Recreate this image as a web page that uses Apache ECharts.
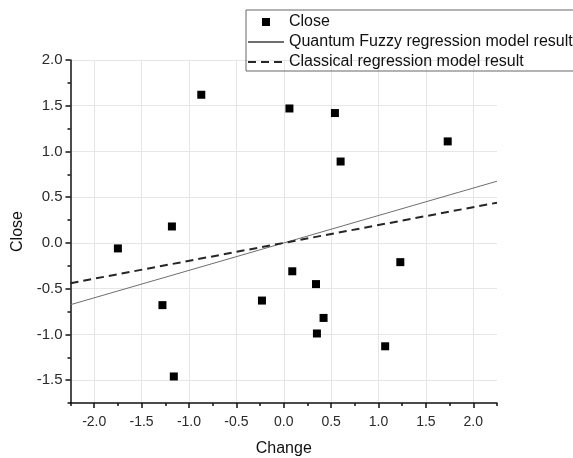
<!DOCTYPE html>
<html>
<head>
<meta charset="utf-8">
<script src="https://cdn.jsdelivr.net/npm/echarts@6/dist/echarts.min.js"></script>
<style>
  html, body { margin: 0; padding: 0; background: #fff; }
  #chart { width: 573px; height: 458px; }
</style>
</head>
<body>
<div id="chart"></div>
<script>
// observed points (Change, Close)
const changeValues = [-0.87, 0.06, 0.54, 1.73, 0.60, -1.18, -1.75, 1.23, 0.09, 0.34, -0.23, -1.28, 0.42, 0.35, 1.07, -1.16];
const closeValues = [1.62, 1.47, 1.42, 1.11, 0.89, 0.18, -0.06, -0.21, -0.31, -0.45, -0.63, -0.68, -0.82, -0.99, -1.13, -1.46];

// fitted lines, read at both ends of the x range
const lineX = [-2.25, 2.25];
const fuzzyY = [-0.675, 0.675];
const classicalY = [-0.44, 0.44];

const xTicks = [-2.0, -1.5, -1.0, -0.5, 0.0, 0.5, 1.0, 1.5, 2.0];
const yTicks = [-1.5, -1.0, -0.5, 0.0, 0.5, 1.0, 1.5, 2.0];

const seriesNames = ['Close', 'Quantum Fuzzy regression model result', 'Classical regression model result'];

const font = "'Liberation Sans', Arial, sans-serif";
const chart = echarts.init(document.getElementById('chart'));

const fmt = (v) => Number(v).toFixed(1);
// hide the circle that line series put in the middle of their legend icon
const noSymbol = { color: 'rgba(0,0,0,0)', borderColor: 'rgba(0,0,0,0)', borderWidth: 0, opacity: 0 };

// main axes carry the minor ticks, the second pair the major ticks, labels and grid
const xMinor = {
  type: 'value', min: -2.25, max: 2.25, interval: 0.25, position: 'bottom',
  axisLine: { onZero: false, lineStyle: { color: '#111', width: 1.5 } },
  axisTick: { length: 3, lineStyle: { color: '#111', width: 1.5 } },
  axisLabel: { show: false },
  splitLine: { show: false }
};
const xMajor = {
  type: 'value', min: -2.25, max: 2.25, position: 'bottom',
  name: 'Change', nameLocation: 'middle', nameGap: 38,
  nameTextStyle: { fontSize: 16, color: '#111', fontFamily: font },
  axisLine: { show: false, onZero: false },
  axisTick: { length: 5, customValues: xTicks, lineStyle: { color: '#111', width: 1.5 } },
  axisLabel: { customValues: xTicks, formatter: fmt, margin: 12, fontSize: 14, color: '#2a2a2a', fontFamily: font },
  splitLine: { show: true, lineStyle: { color: '#e6e6e6', width: 1 } }
};
const yMinor = {
  type: 'value', min: -1.75, max: 2.0, interval: 0.25, position: 'left',
  axisLine: { onZero: false, lineStyle: { color: '#111', width: 1.5 } },
  axisTick: { length: 3, lineStyle: { color: '#111', width: 1.5 } },
  axisLabel: { show: false },
  splitLine: { show: false }
};
const yMajor = {
  type: 'value', min: -1.75, max: 2.0, position: 'left',
  name: 'Close', nameLocation: 'middle', nameGap: 41, nameRotate: 90,
  nameTextStyle: { fontSize: 16, color: '#111', fontFamily: font },
  axisLine: { show: false, onZero: false },
  axisTick: { length: 5, customValues: yTicks, lineStyle: { color: '#111', width: 1.5 } },
  axisLabel: { customValues: yTicks, formatter: fmt, margin: 8, fontSize: 15, color: '#2a2a2a', fontFamily: font },
  splitLine: { show: true, lineStyle: { color: '#e6e6e6', width: 1 } }
};

chart.setOption({
  animation: false,
  backgroundColor: '#fff',
  grid: { left: 70.5, right: 76, top: 60, bottom: 55, outerBoundsMode: 'none' },
  legend: {
    orient: 'vertical', left: 246, top: 10,
    padding: [4, 12, 1, 1], itemGap: 4, itemWidth: 36, itemHeight: 14,
    borderColor: '#666', borderWidth: 1,
    textStyle: { fontSize: 16, color: '#111', fontFamily: font },
    data: [
      { name: seriesNames[0], icon: 'path://M0,0M36,14M14,3h8v8h-8z' },
      { name: seriesNames[1], itemStyle: noSymbol },
      { name: seriesNames[2], itemStyle: noSymbol }
    ]
  },
  xAxis: [xMinor, xMajor],
  yAxis: [yMinor, yMajor],
  series: [
    {
      name: seriesNames[0], type: 'scatter',
      symbol: 'rect', symbolSize: 8,
      itemStyle: { color: '#000', opacity: 1 },
      data: changeValues.map((x, i) => [x, closeValues[i]]),
      z: 5
    },
    {
      name: seriesNames[1], type: 'line',
      symbol: 'none',
      lineStyle: { color: '#6e6e6e', width: 1 },
      itemStyle: { color: '#6e6e6e' },
      data: lineX.map((x, i) => [x, fuzzyY[i]])
    },
    {
      name: seriesNames[2], type: 'line',
      symbol: 'none',
      lineStyle: { color: '#262626', width: 2, type: [8, 5] },
      itemStyle: { color: '#262626' },
      data: lineX.map((x, i) => [x, classicalY[i]])
    }
  ]
});
</script>
</body>
</html>
